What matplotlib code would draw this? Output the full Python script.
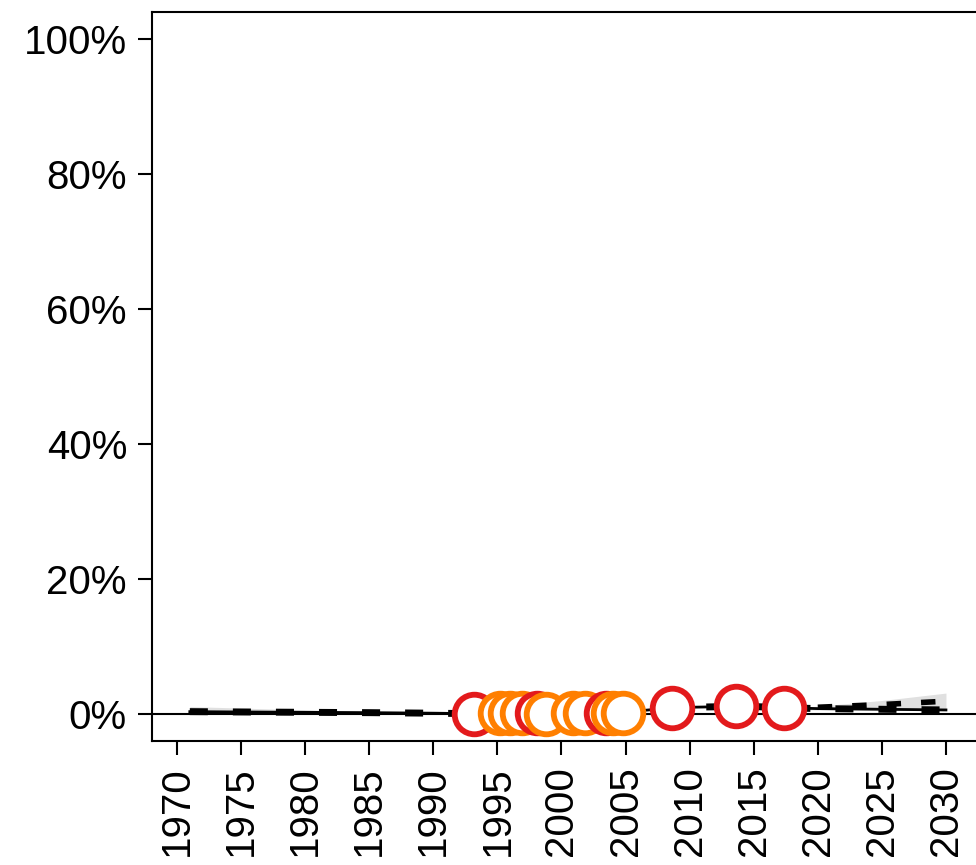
import matplotlib
matplotlib.use("Agg")
import matplotlib.pyplot as plt
from matplotlib.ticker import FuncFormatter

plt.rcParams['font.family'] = ['Liberation Sans', 'DejaVu Sans']

# Main estimate line (percent)
line_years = [1971, 1975, 1980, 1985, 1990, 1993, 1995, 2000, 2005, 2008, 2010, 2013, 2015, 2018, 2020, 2025, 2030]
line_vals = [0.35, 0.3, 0.25, 0.2, 0.12, 0.05, 0.05, 0.1, 0.3, 0.8, 1.0, 1.1, 1.1, 0.9, 0.8, 0.7, 0.6]

# Upper projection (dashed)
proj_years = [2020, 2025, 2030]
proj_vals = [1.0, 1.4, 1.9]

# Uncertainty bands
band1_years = [1971, 1980, 1990]
band1_lo = [0.2, 0.15, 0.05]
band1_hi = [1.1, 0.6, 0.15]
band2_years = [2019, 2025, 2030]
band2_lo = [0.6, 0.55, 0.5]
band2_hi = [1.0, 2.0, 3.1]

# Survey points
red_years = [1993.2, 1998.1, 2003.5, 2008.6, 2013.6, 2017.4]
red_vals = [0.0, 0.1, 0.1, 0.9, 1.2, 0.9]
orange_years = [1995.2, 1996.0, 1996.9, 1998.8, 2000.9, 2001.8, 2004.0, 2004.8]
orange_vals = [0.1, 0.1, 0.1, 0.0, 0.1, 0.1, 0.1, 0.1]

xticks = list(range(1970, 2031, 5))
yticks = [0, 20, 40, 60, 80, 100]

fig = plt.figure(figsize=(9.76, 8.65), dpi=100)
ax = fig.add_axes([152/976, 124/865, 826/976, 729/865])

ax.fill_between(band1_years, band1_lo, band1_hi, color='#e0e0e0', lw=0, zorder=1)
ax.fill_between(band2_years, band2_lo, band2_hi, color='#e0e0e0', lw=0, zorder=1)

ax.axhline(0, color='black', lw=1.5, zorder=2)
ax.plot(line_years, line_vals, color='black', lw=2, zorder=3)
ax.plot(line_years, line_vals, color='black', lw=5, dashes=(2.6, 3.6), zorder=3)
ax.plot(proj_years, proj_vals, color='black', lw=4, dashes=(2.6, 3.6), zorder=3)

# draw markers in chronological order so overlaps match
pts = sorted([(y, v, '#e31a1c') for y, v in zip(red_years, red_vals)] +
             [(y, v, '#ff7f00') for y, v in zip(orange_years, orange_vals)])
for y, v, c in pts:
    ax.plot([y], [v], marker='o', markersize=28.5, markerfacecolor='white',
            markeredgecolor=c, markeredgewidth=4.2, linestyle='none', zorder=5,
            clip_on=False)

ax.set_xlim(1968.05, 2032.5)
ax.set_ylim(-4, 104)
ax.set_xticks(xticks)
ax.set_xticklabels([str(x) for x in xticks], rotation=90)
ax.set_yticks(yticks)
ax.yaxis.set_major_formatter(FuncFormatter(lambda v, p: f"{int(v)}%"))
ax.tick_params(axis='both', length=10, width=1.5, labelsize=29, pad=8)
for s in ax.spines.values():
    s.set_linewidth(1.5)

fig.savefig('out.png', dpi=100)
